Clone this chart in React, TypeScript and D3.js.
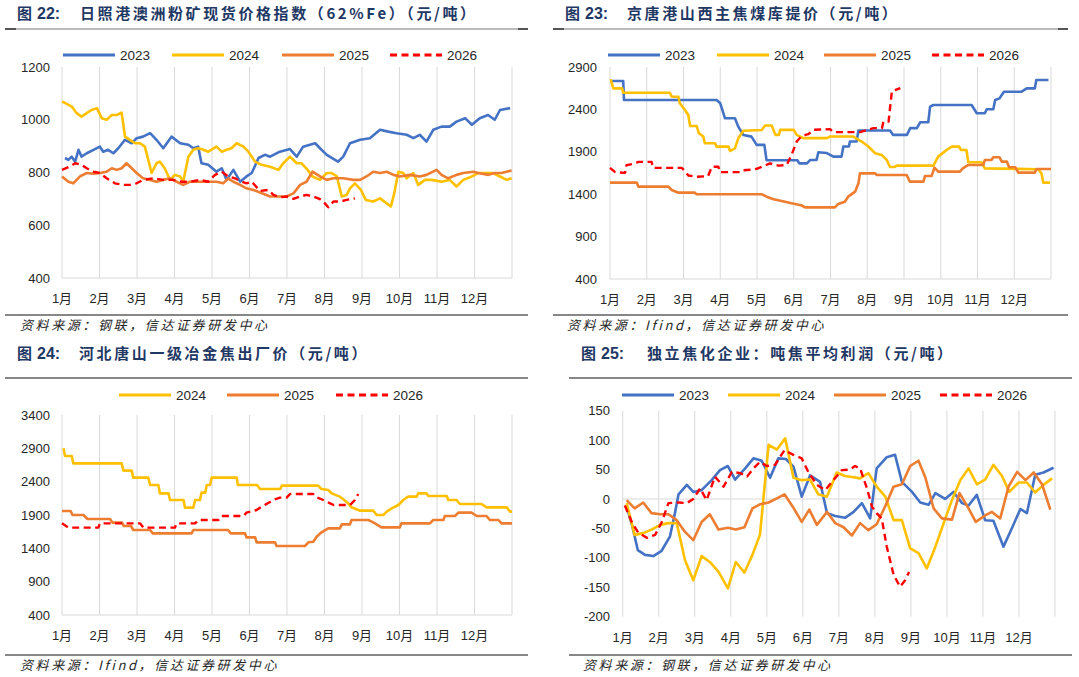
import React from 'react';
import * as d3 from 'd3';

type Pt = [number, number];

// x values are in months from 1 Jan (0 = 1月, 12 = year end)
const monthLabels = ['1月', '2月', '3月', '4月', '5月', '6月', '7月', '8月', '9月', '10月', '11月', '12月'];
const yearNames = ['2023', '2024', '2025', '2026'];

// 图22 日照港澳洲粉矿现货价格指数
const oreTicks = [400, 600, 800, 1000, 1200];
const ore2023: Pt[] = [[0.08,855],[0.17,848],[0.26,860],[0.35,841],[0.44,886],[0.52,860],[0.66,873],[0.84,886],[1.01,898],[1.1,879],[1.23,886],[1.37,873],[1.5,892],[1.68,924],[1.86,911],[1.99,930],[2.16,936],[2.35,949],[2.52,924],[2.7,892],[2.92,936],[3.15,911],[3.37,905],[3.5,892],[3.63,898],[3.72,835],[3.9,829],[4.12,803],[4.26,816],[4.39,772],[4.57,810],[4.75,765],[4.92,785],[5.06,798],[5.24,855],[5.41,867],[5.55,860],[5.81,879],[6.08,889],[6.26,860],[6.43,898],[6.75,911],[6.88,892],[7.06,867],[7.36,841],[7.5,860],[7.68,911],[7.95,924],[8.21,930],[8.48,962],[8.7,955],[8.92,949],[9.19,943],[9.37,930],[9.54,943],[9.72,917],[9.9,962],[10.12,974],[10.34,974],[10.52,993],[10.75,1006],[10.93,981],[11.14,1006],[11.36,1018],[11.54,1000],[11.68,1037],[11.95,1044]];
const ore2024: Pt[] = [[0,1069],[0.09,1063],[0.26,1050],[0.39,1025],[0.52,1012],[0.66,1025],[0.79,1037],[0.93,1044],[1.06,1006],[1.19,1000],[1.33,1018],[1.46,1018],[1.59,1027],[1.68,936],[1.81,924],[1.95,911],[2.08,911],[2.21,898],[2.39,798],[2.52,835],[2.61,841],[2.74,816],[2.88,772],[3.01,791],[3.15,785],[3.23,765],[3.37,860],[3.5,886],[3.63,892],[3.77,886],[3.9,879],[4.12,898],[4.26,879],[4.39,886],[4.52,892],[4.66,911],[4.84,898],[4.97,879],[5.15,841],[5.32,829],[5.55,822],[5.77,810],[5.9,835],[6.08,860],[6.26,835],[6.39,835],[6.55,810],[6.68,785],[6.88,772],[7.06,798],[7.19,798],[7.33,785],[7.46,709],[7.59,715],[7.68,740],[7.81,759],[7.97,734],[8.1,696],[8.3,690],[8.48,702],[8.66,683],[8.77,671],[8.86,721],[8.97,803],[9.1,798],[9.19,778],[9.37,798],[9.5,753],[9.68,772],[9.86,772],[10.12,765],[10.34,772],[10.52,747],[10.7,772],[10.93,785],[11.1,798],[11.32,798],[11.49,798],[11.68,785],[11.86,772],[11.99,778]];
const ore2025: Pt[] = [[0,785],[0.17,765],[0.3,759],[0.48,785],[0.66,798],[0.84,795],[1.01,798],[1.19,803],[1.33,816],[1.46,810],[1.59,816],[1.72,835],[1.86,816],[1.99,798],[2.16,778],[2.35,772],[2.52,765],[2.7,772],[2.88,778],[3.06,765],[3.23,753],[3.41,765],[3.59,765],[3.86,765],[4.12,765],[4.3,759],[4.43,778],[4.57,765],[4.75,753],[4.92,740],[5.1,734],[5.28,724],[5.55,709],[5.81,709],[5.99,709],[6.17,721],[6.35,753],[6.52,765],[6.68,803],[6.88,785],[7.06,772],[7.24,778],[7.5,778],[7.77,772],[7.95,772],[8.12,785],[8.3,803],[8.48,798],[8.66,803],[8.84,791],[9.01,785],[9.28,791],[9.54,785],[9.72,791],[9.99,810],[10.12,791],[10.3,778],[10.52,791],[10.7,798],[10.97,803],[11.1,798],[11.37,791],[11.54,798],[11.72,798],[11.99,808]];
const ore2026: Pt[] = [[0,810],[0.2,822],[0.35,835],[0.52,829],[0.66,816],[0.84,803],[1.01,798],[1.19,778],[1.41,759],[1.63,753],[1.81,753],[1.99,759],[2.16,772],[2.43,778],[2.7,772],[2.96,772],[3.19,765],[3.41,765],[3.68,772],[3.9,765],[4.08,791],[4.26,803],[4.43,785],[4.61,778],[4.79,765],[4.92,759],[5.06,765],[5.28,730],[5.5,734],[5.64,715],[5.81,706],[5.99,709],[6.17,700],[6.35,709],[6.52,715],[6.7,709],[6.88,699],[7.01,683],[7.1,668],[7.24,690],[7.42,690],[7.59,696],[7.81,702]];

// 图23 京唐港山西主焦煤库提价
const coalTicks = [400, 900, 1400, 1900, 2400, 2900];
const coal2023: Pt[] = [[0,2735],[0.36,2735],[0.38,2511],[2.9,2511],[3.0,2472],[3.13,2295],[3.4,2295],[3.49,2197],[3.63,2098],[3.85,2079],[3.99,1982],[4.2,1982],[4.26,1800],[5.1,1800],[5.15,1764],[5.36,1764],[5.45,1804],[5.62,1804],[5.67,1895],[5.9,1885],[6.08,1843],[6.3,1843],[6.35,1962],[6.5,1962],[6.53,2021],[6.71,2021],[6.76,2151],[7.62,2151],[7.7,2100],[8.08,2100],[8.17,2179],[8.35,2179],[8.44,2248],[8.66,2248],[8.71,2432],[8.8,2452],[9.84,2452],[9.98,2354],[10.2,2354],[10.25,2401],[10.43,2401],[10.48,2511],[10.6,2530],[10.66,2570],[10.72,2609],[11.2,2609],[11.34,2648],[11.56,2648],[11.6,2747],[11.93,2747]];
const coal2024: Pt[] = [[0.02,2755],[0.09,2648],[0.33,2648],[0.36,2597],[1.63,2597],[1.68,2550],[1.86,2550],[1.9,2472],[2.04,2393],[2.13,2334],[2.18,2204],[2.36,2204],[2.42,2118],[2.54,2079],[2.58,2000],[2.86,2000],[2.9,1961],[3.22,1961],[3.27,1910],[3.4,1941],[3.49,2059],[3.63,2149],[4.13,2157],[4.22,2210],[4.4,2210],[4.5,2100],[4.6,2100],[4.63,2159],[5.0,2159],[5.08,2100],[5.26,2061],[5.9,2061],[5.99,2080],[6.62,2080],[6.85,2021],[7.03,1962],[7.21,1884],[7.39,1863],[7.53,1804],[7.62,1720],[7.75,1720],[7.8,1737],[8.8,1737],[8.93,1843],[9.16,1921],[9.3,1961],[9.5,1961],[9.55,1921],[9.7,1921],[9.75,1776],[10.11,1776],[10.2,1705],[11.65,1694],[11.74,1646],[11.79,1536],[11.97,1536]];
const coal2025: Pt[] = [[0,1536],[0.73,1536],[0.77,1489],[1.59,1489],[1.68,1450],[1.86,1418],[2.3,1418],[2.36,1399],[4.13,1399],[4.26,1371],[4.45,1340],[4.67,1320],[4.94,1293],[5.2,1270],[5.31,1245],[6.12,1245],[6.21,1285],[6.39,1312],[6.48,1371],[6.67,1430],[6.76,1528],[6.8,1646],[7.21,1646],[7.26,1627],[8.07,1627],[8.16,1548],[8.53,1548],[8.57,1615],[8.75,1615],[8.83,1713],[8.93,1666],[9.52,1666],[9.6,1705],[9.75,1745],[10.16,1745],[10.2,1804],[10.38,1804],[10.43,1835],[10.6,1835],[10.66,1784],[10.8,1784],[10.86,1717],[11.03,1717],[11.11,1654],[11.56,1654],[11.61,1697],[12,1697]];
const coal2026: Pt[] = [[0,1711],[0.14,1660],[0.41,1652],[0.45,1742],[0.68,1762],[0.77,1781],[1.13,1781],[1.18,1711],[1.95,1711],[2.04,1672],[2.13,1620],[2.36,1605],[2.67,1613],[2.77,1723],[2.95,1723],[2.99,1660],[3.54,1660],[3.63,1683],[3.9,1691],[3.99,1700],[4.22,1737],[4.35,1764],[4.58,1737],[4.81,1745],[4.94,1863],[5.08,2021],[5.22,2088],[5.4,2108],[5.53,2159],[5.99,2167],[6.08,2132],[6.8,2132],[7.17,2179],[7.4,2179],[7.44,2257],[7.58,2257],[7.62,2415],[7.67,2612],[7.9,2652]];

// 图24 河北唐山一级冶金焦出厂价
const cokeTicks = [400, 900, 1400, 1900, 2400, 2900, 3400];
const coke2024: Pt[] = [[0.04,2900],[0.08,2785],[0.26,2785],[0.3,2675],[1.59,2675],[1.64,2565],[1.86,2565],[1.9,2460],[2.3,2460],[2.35,2350],[2.57,2350],[2.61,2225],[2.84,2225],[2.88,2125],[3.24,2125],[3.28,2010],[3.5,2010],[3.55,2125],[3.68,2125],[3.72,2235],[3.82,2235],[3.86,2350],[3.95,2350],[3.99,2460],[4.66,2460],[4.69,2350],[5.2,2350],[5.28,2290],[5.82,2290],[5.86,2340],[6.83,2340],[6.92,2290],[7.1,2275],[7.19,2225],[7.41,2175],[7.55,2115],[7.63,2075],[7.72,2015],[7.95,1965],[8.3,1965],[8.39,1900],[8.57,1900],[8.66,1950],[8.79,2000],[8.97,2050],[9.1,2125],[9.23,2175],[9.46,2175],[9.5,2225],[9.72,2225],[9.77,2185],[10.26,2185],[10.3,2125],[10.52,2125],[10.61,2065],[11.19,2065],[11.32,2015],[11.86,2015],[11.95,1950],[12,1950]];
const coke2025: Pt[] = [[0,1960],[0.23,1960],[0.28,1900],[0.57,1900],[0.68,1840],[1.28,1840],[1.35,1785],[1.6,1785],[1.65,1735],[1.84,1735],[1.9,1675],[2.35,1675],[2.42,1625],[3.46,1625],[3.5,1675],[4.43,1675],[4.5,1625],[4.88,1625],[4.92,1565],[5.15,1565],[5.19,1490],[5.68,1490],[5.72,1435],[6.48,1435],[6.57,1490],[6.7,1500],[6.79,1575],[6.92,1640],[7.1,1700],[7.41,1700],[7.46,1760],[7.68,1760],[7.72,1825],[8.17,1825],[8.26,1800],[8.39,1760],[8.52,1715],[9.01,1715],[9.05,1775],[9.81,1775],[9.9,1825],[10.17,1825],[10.21,1885],[10.48,1885],[10.57,1935],[10.92,1935],[11.06,1885],[11.32,1885],[11.41,1825],[11.64,1825],[11.72,1775],[12,1775]];
const coke2026: Pt[] = [[0,1775],[0.17,1710],[0.97,1710],[1.01,1775],[2.08,1775],[2.17,1710],[3.01,1710],[3.06,1775],[3.55,1775],[3.64,1825],[4.17,1825],[4.26,1885],[4.84,1885],[4.92,1935],[5.19,1975],[5.37,2040],[5.5,2080],[5.68,2135],[5.81,2160],[5.99,2160],[6.08,2215],[6.7,2215],[6.79,2165],[6.97,2125],[7.15,2075],[7.24,2050],[7.68,2050],[7.81,2125],[7.9,2215]];

// 图25 独立焦化企业：吨焦平均利润
const profitTicks = [-200, -150, -100, -50, 0, 50, 100, 150];
const profit2023: Pt[] = [[0.11,-13],[0.27,-47],[0.42,-87],[0.62,-95],[0.85,-97],[1.08,-88],[1.31,-64],[1.45,-24],[1.55,8],[1.78,24],[1.96,12],[2.19,15],[2.47,32],[2.7,49],[2.92,56],[3.12,33],[3.4,52],[3.63,69],[3.86,65],[4.09,36],[4.32,69],[4.53,68],[4.74,55],[4.97,4],[5.2,40],[5.48,29],[5.67,-24],[5.9,-29],[6.17,-32],[6.41,-22],[6.64,-7],[6.87,-33],[7.05,52],[7.33,71],[7.56,75],[7.75,29],[8.03,12],[8.26,-6],[8.49,-10],[8.68,10],[8.95,0],[9.18,12],[9.42,-7],[9.6,-11],[9.83,7],[10.06,-36],[10.29,-37],[10.57,-81],[10.8,-50],[11.04,-17],[11.22,-24],[11.45,41],[11.68,45],[11.96,53]];
const profit2024: Pt[] = [[0.11,-7],[0.33,-61],[0.57,-58],[0.8,-52],[1.04,-44],[1.27,-41],[1.5,-41],[1.73,-104],[1.96,-138],[2.19,-97],[2.42,-107],[2.66,-124],[2.92,-152],[3.14,-107],[3.38,-125],[3.6,-95],[3.81,-61],[4.05,92],[4.28,84],[4.51,103],[4.74,36],[4.97,32],[5.2,33],[5.43,8],[5.67,4],[5.94,45],[6.17,39],[6.41,37],[6.59,35],[6.82,44],[7.05,21],[7.29,4],[7.52,-36],[7.75,-36],[7.98,-84],[8.21,-92],[8.44,-118],[8.68,-81],[8.91,-41],[9.14,-2],[9.37,32],[9.6,52],[9.83,25],[10.06,33],[10.29,58],[10.53,39],[10.73,12],[10.99,28],[11.22,28],[11.45,11],[11.68,24],[11.92,35]];
const profit2025: Pt[] = [[0.11,-2],[0.33,-16],[0.57,-6],[0.8,-24],[1.04,-26],[1.27,-26],[1.5,-36],[1.73,-56],[1.96,-70],[2.19,-39],[2.42,-26],[2.66,-52],[2.92,-49],[3.14,-52],[3.38,-48],[3.6,-16],[3.81,-9],[4.05,-6],[4.28,1],[4.49,8],[4.74,-15],[4.97,-39],[5.18,-18],[5.39,-44],[5.67,-22],[5.9,-41],[6.13,-48],[6.36,-62],[6.59,-41],[6.82,-53],[7.05,-43],[7.29,-12],[7.52,21],[7.75,25],[7.98,56],[8.21,65],[8.4,37],[8.63,-16],[8.86,-33],[9.14,-35],[9.35,10],[9.6,-16],[9.8,-39],[10.06,-28],[10.25,-22],[10.48,-33],[10.71,21],[10.95,46],[11.18,32],[11.41,45],[11.64,25],[11.87,-18]];
const profit2026: Pt[] = [[0.06,-11],[0.25,-39],[0.43,-57],[0.67,-66],[0.9,-61],[1.08,-40],[1.27,-7],[1.55,-6],[1.78,-7],[1.96,0],[2.15,18],[2.33,-2],[2.56,38],[2.8,21],[3.03,46],[3.26,44],[3.45,38],[3.63,52],[3.81,63],[4.0,56],[4.23,58],[4.49,83],[4.74,75],[4.97,69],[5.16,45],[5.39,24],[5.62,15],[5.85,32],[6.08,49],[6.31,50],[6.45,56],[6.59,52],[6.78,18],[6.92,-13],[7.05,-24],[7.19,-33],[7.33,-81],[7.52,-129],[7.7,-149],[7.84,-138],[7.95,-124]];

const colors: Record<string, string> = { '2023': '#4472C4', '2024': '#FFC000', '2025': '#ED7D31', '2026': '#FF0000' };
const FONT = '"Liberation Sans", Arial, "Noto Sans CJK SC", sans-serif';
const CJK = '"Noto Sans CJK SC", "Liberation Sans", sans-serif';
const NAVY = '#1F3864';

interface PanelProps {
  figNo: string;
  title: string;
  titleGap: number;
  source: string;
  top: number;
  titleX: number;
  ruleX: [number, number];
  ruleGrey: boolean;
  xRange: [number, number];
  yRange: [number, number]; // [bottom, top] px
  yTicks: number[];
  labelRight: number;
  series: Record<string, Pt[]>;
  legendX: number[];
  sourceX: number;
  zeroAxis?: boolean;
}

const Panel: React.FC<PanelProps> = (p) => {
  const x = d3.scaleLinear().domain([0, 12]).range(p.xRange);
  const y = d3.scaleLinear().domain([p.yTicks[0], p.yTicks[p.yTicks.length - 1]]).range(p.yRange);
  const line = d3.line<Pt>().x(d => x(d[0])).y(d => y(d[1]));
  const names = Object.keys(p.series);
  const axisY = p.zeroAxis ? y(0) : p.yRange[0];
  const top = p.top;
  return (
    <g>
      <text y={top + 19} fill={NAVY} fontWeight={700}>
        <tspan x={p.titleX} fontFamily={CJK} fontSize={15}>图</tspan>
        <tspan x={p.titleX + 20} fontFamily={FONT} fontSize={16}>{p.figNo}:</tspan>
        <tspan x={p.titleX + p.titleGap} fontFamily={CJK} fontSize={15} letterSpacing={2.6}>{p.title}</tspan>
      </text>
      {p.ruleGrey ? (
        <g>
          <line x1={p.ruleX[0]} x2={p.ruleX[1]} y1={top + 29} y2={top + 29} stroke="#a6a6a6" strokeWidth={1.5} />
          <line x1={p.ruleX[0]} x2={p.ruleX[0] + 11} y1={top + 29} y2={top + 29} stroke="#333" strokeWidth={1.5} />
          <line x1={p.ruleX[1] - 10} x2={p.ruleX[1]} y1={top + 29} y2={top + 29} stroke="#333" strokeWidth={1.5} />
        </g>
      ) : (
        <line x1={p.ruleX[0]} x2={p.ruleX[1]} y1={top + 38} y2={top + 38} stroke="#111" strokeWidth={1.2} />
      )}
      {d3.range(13).map(i => (
        <line key={'g' + i} x1={x(i)} x2={x(i)} y1={p.yRange[1]} y2={p.yRange[0]} stroke="#d9d9d9" strokeWidth={1} />
      ))}
      <line x1={p.xRange[0]} x2={p.xRange[1]} y1={axisY} y2={axisY} stroke="#d9d9d9" strokeWidth={1.2} />
      {p.yTicks.map(t => (
        <text key={'y' + t} x={p.labelRight} y={y(t)} dy="0.35em" textAnchor="end" fontFamily={FONT} fontSize={13} fill="#262626">{t}</text>
      ))}
      {monthLabels.map((m, i) => (
        <text key={m} x={x(i)} y={p.yRange[0] + 25} textAnchor="middle" fontFamily={FONT} fontSize={13} fill="#262626">{m}</text>
      ))}
      {names.map(n => (
        <path key={n} d={line(p.series[n]) ?? ''} fill="none" stroke={colors[n]} strokeWidth={n === '2026' ? 2.4 : 2.6}
          strokeDasharray={n === '2026' ? '7,4.5' : undefined} strokeLinejoin="round" />
      ))}
      {names.map((n, i) => (
        <g key={'l' + n}>
          <line x1={p.legendX[i]} x2={p.legendX[i] + 52} y1={top + 55} y2={top + 55} stroke={colors[n]} strokeWidth={3}
            strokeDasharray={n === '2026' ? '7,4.5' : undefined} />
          <text x={p.legendX[i] + 57} y={top + 55} dy="0.35em" fontFamily={FONT} fontSize={13.5} fill="#262626">{n}</text>
        </g>
      ))}
      <line x1={p.ruleX[0]} x2={p.ruleX[1]} y1={top + 315} y2={top + 315} stroke="#111" strokeWidth={1.2} />
      <text x={p.sourceX} y={top + 330} fontFamily={CJK} fontSize={13} fontStyle="italic" fill="#262626" letterSpacing={2.6}>{p.source}</text>
    </g>
  );
};

const App: React.FC = () => {
  const pick = (arr: Pt[][], from: number) => {
    const o: Record<string, Pt[]> = {};
    arr.forEach((a, i) => { o[yearNames[i + from]] = a; });
    return o;
  };
  return (
    <svg width={1079} height={677} style={{ position: 'absolute', left: 0, top: 0, background: '#fff' }}>
      <rect width={1079} height={677} fill="#fff" />
      <Panel figNo="22" title="日照港澳洲粉矿现货价格指数（62%Fe）（元/吨）" titleGap={63} source="资料来源：钢联，信达证券研发中心"
        top={0} titleX={17} ruleX={[5, 528]} ruleGrey xRange={[62, 512]} yRange={[278, 67]} yTicks={oreTicks}
        labelRight={50} series={pick([ore2023, ore2024, ore2025, ore2026], 0)} legendX={[63, 172, 282, 390]} sourceX={20} />
      <Panel figNo="23" title="京唐港山西主焦煤库提价（元/吨）" titleGap={62} source="资料来源：Ifind，信达证券研发中心"
        top={0} titleX={565} ruleX={[553, 1068]} ruleGrey xRange={[610, 1051]} yRange={[279, 67]} yTicks={coalTicks}
        labelRight={597} series={pick([coal2023, coal2024, coal2025, coal2026], 0)} legendX={[608, 717, 824, 932]} sourceX={567} />
      <Panel figNo="24" title="河北唐山一级冶金焦出厂价（元/吨）" titleGap={62} source="资料来源：Ifind，信达证券研发中心"
        top={340} titleX={17} ruleX={[5, 528]} ruleGrey={false} xRange={[62, 512]} yRange={[615, 415]} yTicks={cokeTicks}
        labelRight={50} series={pick([coke2024, coke2025, coke2026], 1)} legendX={[119, 227, 336]} sourceX={20} />
      <Panel figNo="25" title="独立焦化企业：吨焦平均利润（元/吨）" titleGap={66} source="资料来源：钢联，信达证券研发中心"
        top={340} titleX={581} ruleX={[569, 1072]} ruleGrey={false} xRange={[622.7, 1055]} yRange={[616.7, 410.7]} yTicks={profitTicks}
        labelRight={610} series={pick([profit2023, profit2024, profit2025, profit2026], 0)} legendX={[622, 728, 834, 940]} sourceX={583} zeroAxis />
    </svg>
  );
};

export default App;
